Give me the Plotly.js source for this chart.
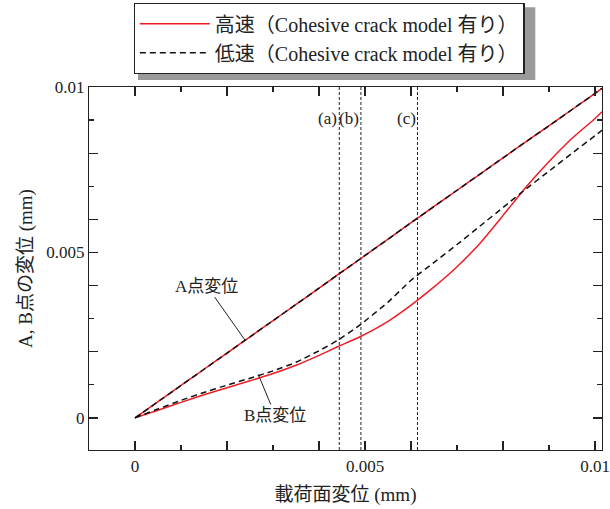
<!DOCTYPE html>
<html>
<head>
<meta charset="utf-8">
<script src="https://cdn.plot.ly/plotly-3.0.1.min.js"></script>
<style>html,body{margin:0;padding:0;background:#fff}#chart{width:610px;height:509px}</style>
</head>
<body>
<div id="chart"></div>
<script>
// Loading-face displacement (mm)
const loadDisp = [0, 0.0005, 0.001, 0.0015, 0.002, 0.0025, 0.003, 0.0035, 0.004, 0.0044, 0.0049, 0.0055, 0.006, 0.0065, 0.007, 0.0075, 0.008, 0.0085, 0.009, 0.0095, 0.01, 0.01015];
// Point A displacement (both speeds)
const aHigh = [0, 0.00049, 0.00098, 0.00147, 0.00196, 0.00245, 0.00294, 0.00343, 0.00392, 0.00432, 0.00481, 0.00540, 0.00590, 0.00639, 0.00688, 0.00737, 0.00786, 0.00835, 0.00883, 0.00932, 0.00981, 0.00996];
const aLow  = [0, 0.00049, 0.00098, 0.00147, 0.00196, 0.00245, 0.00294, 0.00343, 0.00392, 0.00432, 0.00481, 0.00540, 0.00590, 0.00639, 0.00688, 0.00737, 0.00786, 0.00835, 0.00883, 0.00932, 0.00981, 0.00996];
// Point B displacement
const bHigh = [0, 0.00023, 0.00047, 0.00070, 0.00091, 0.00112, 0.00134, 0.00159, 0.00189, 0.00215, 0.00246, 0.00292, 0.00341, 0.00396, 0.00457, 0.00528, 0.00612, 0.00698, 0.00775, 0.00845, 0.00905, 0.00925];
const bLow  = [0, 0.00027, 0.00053, 0.00077, 0.00099, 0.00120, 0.00142, 0.00168, 0.00203, 0.00234, 0.00282, 0.00350, 0.00416, 0.00470, 0.00524, 0.00580, 0.00636, 0.00692, 0.00746, 0.00800, 0.00853, 0.00869];
// Marked states
const markerX = [0.00444, 0.00491, 0.00614];
const markerLabels = ['(a)', '(b)', '(c)'];
const seriesNames = ['高速（Cohesive crack model 有り）', '低速（Cohesive crack model 有り）'];
const xTickVals = [0, 0.002, 0.004, 0.005, 0.006, 0.008, 0.01];
const xTickText = ['0', '', '', '0.005', '', '', '0.01'];
const yTickVals = [0, 0.002, 0.004, 0.005, 0.006, 0.008, 0.01];
const yTickText = ['0', '', '', '0.005', '', '', '0.01'];

const FONT = '"Liberation Serif", "Times New Roman", "Noto Sans CJK JP", serif';
const RED = '#ee1c25', BLK = '#111';

const traces = [
  {x: loadDisp, y: aHigh, mode: 'lines', name: seriesNames[0], legendgroup: 'h', line: {color: RED, width: 1.5, shape: 'spline', smoothing: 0.5}},
  {x: loadDisp, y: bHigh, mode: 'lines', name: seriesNames[0], legendgroup: 'h', showlegend: false, line: {color: RED, width: 1.5, shape: 'spline', smoothing: 0.5}},
  {x: loadDisp, y: aLow, mode: 'lines', name: seriesNames[1], legendgroup: 'l', line: {color: BLK, width: 1.5, dash: '6px,4px', shape: 'spline', smoothing: 0.5}},
  {x: loadDisp, y: bLow, mode: 'lines', name: seriesNames[1], legendgroup: 'l', showlegend: false, line: {color: BLK, width: 1.5, dash: '6px,4px', shape: 'spline', smoothing: 0.5}}
];

const shapes = markerX.map(v => ({type: 'line', xref: 'x', yref: 'paper', x0: v, x1: v, y0: 0, y1: 1, line: {color: '#222', width: 1, dash: '3px,2px'}, layer: 'below'}));
// legend drop shadow (offset gray box behind the legend)
shapes.push({type: 'rect', xref: 'paper', yref: 'paper', x0: 0.0955, x1: 0.870, y0: 1.019, y1: 1.220, fillcolor: '#9a9a9a', line: {width: 0}, layer: 'below'});

const annotations = markerLabels.map((t, i) => ({x: markerX[i], y: 0.00904, xref: 'x', yref: 'y', text: t, showarrow: false, xanchor: 'right', yanchor: 'middle', font: {family: FONT, size: 17, color: '#222'}}));
annotations.push({x: 0.00239, y: 0.00235, xref: 'x', yref: 'y', text: 'A点変位', showarrow: true, arrowhead: 0, arrowwidth: 1, arrowcolor: '#222', ax: -38, ay: -54, font: {family: FONT, size: 17, color: '#222'}});
annotations.push({x: 0.00268, y: 0.00131, xref: 'x', yref: 'y', text: 'B点変位', showarrow: true, arrowhead: 0, arrowwidth: 1, arrowcolor: '#222', ax: 17, ay: 41, font: {family: FONT, size: 17, color: '#222'}});

const axisCommon = {
  showline: true, linecolor: '#222', linewidth: 1.2, mirror: 'ticks', ticks: 'inside', ticklen: 9, tickwidth: 1.2, tickcolor: '#222',
  showgrid: false, zeroline: false, tickmode: 'array',
  tickfont: {family: FONT, size: 17, color: '#222'},
  minor: {ticks: 'inside', tick0: 0, dtick: 0.001, ticklen: 5, tickwidth: 1.2, tickcolor: '#222', showgrid: false}
};

const layout = {
  width: 610, height: 509,
  margin: {l: 89, r: 8, t: 87, b: 59, autoexpand: false},
  paper_bgcolor: '#fff', plot_bgcolor: '#fff',
  font: {family: FONT, color: '#222'},
  showlegend: true,
  legend: {x: 0.087, y: 1.231, xanchor: 'left', yanchor: 'top', bgcolor: '#fff', bordercolor: '#222', borderwidth: 1.2,
           font: {family: FONT, size: 20, color: '#222'}, itemwidth: 70, tracegroupgap: 0},
  xaxis: Object.assign({}, axisCommon, {range: [-0.001, 0.01015], tickvals: xTickVals, ticktext: xTickText,
    title: {text: '載荷面変位 (mm)', font: {family: FONT, size: 19, color: '#222'}, standoff: 13}}),
  yaxis: Object.assign({}, axisCommon, {range: [-0.00097, 0.01], tickvals: yTickVals, ticktext: yTickText,
    title: {text: 'A, B点の変位 (mm)', font: {family: FONT, size: 19, color: '#222'}, standoff: 8}}),
  shapes: shapes,
  annotations: annotations
};

Plotly.newPlot('chart', traces, layout, {displayModeBar: false, staticPlot: true});
</script>
</body>
</html>
